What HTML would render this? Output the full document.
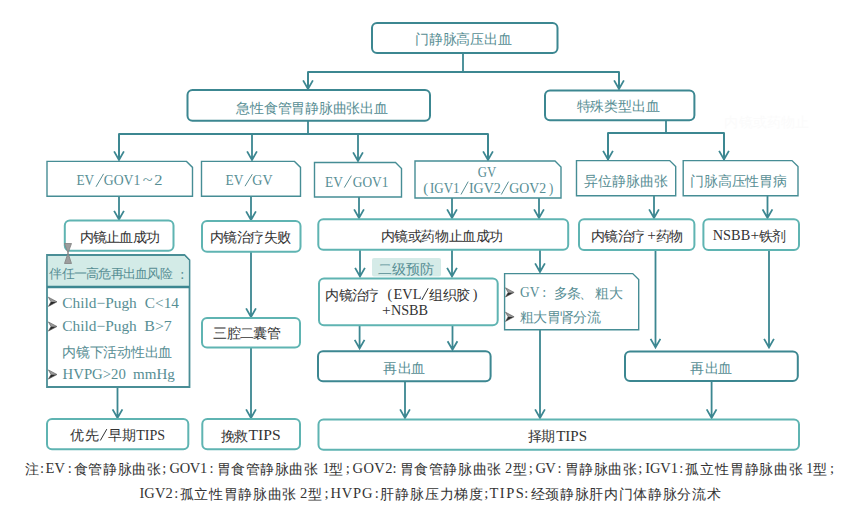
<!DOCTYPE html>
<html><head><meta charset="utf-8"><style>
html,body{margin:0;padding:0;background:#fff;width:865px;height:507px;overflow:hidden}
svg{display:block}
text{font-family:"Liberation Serif", serif}
</style></head><body>
<svg width="865" height="507" viewBox="0 0 865 507">
<path d="M463,53 L463,72" fill="none" stroke="#3c8791" stroke-width="1.8" stroke-linejoin="round"/>
<path d="M308,89 L308,72 L619,72 L619,89" fill="none" stroke="#3c8791" stroke-width="1.8" stroke-linejoin="round"/>
<path d="M308,72 L308,88.5 M303.1,80.4 L308,89.0 L312.9,80.4" fill="none" stroke="#3c8791" stroke-width="1.8" stroke-linejoin="miter" stroke-linecap="butt"/>
<path d="M619,72 L619,88.5 M614.1,80.4 L619,89.0 L623.9,80.4" fill="none" stroke="#3c8791" stroke-width="1.8" stroke-linejoin="miter" stroke-linecap="butt"/>
<path d="M308,121 L308,134" fill="none" stroke="#3c8791" stroke-width="1.8" stroke-linejoin="round"/>
<path d="M119,160 L119,134 L488,134 L488,160" fill="none" stroke="#3c8791" stroke-width="1.8" stroke-linejoin="round"/>
<path d="M119,134 L119,159.5 M114.1,151.4 L119,160.0 L123.9,151.4" fill="none" stroke="#3c8791" stroke-width="1.8" stroke-linejoin="miter" stroke-linecap="butt"/>
<path d="M252,134 L252,159.5 M247.1,151.4 L252,160.0 L256.9,151.4" fill="none" stroke="#3c8791" stroke-width="1.8" stroke-linejoin="miter" stroke-linecap="butt"/>
<path d="M358,134 L358,160.5 M353.1,152.4 L358,161.0 L362.9,152.4" fill="none" stroke="#3c8791" stroke-width="1.8" stroke-linejoin="miter" stroke-linecap="butt"/>
<path d="M488,134 L488,159.5 M483.1,151.4 L488,160.0 L492.9,151.4" fill="none" stroke="#3c8791" stroke-width="1.8" stroke-linejoin="miter" stroke-linecap="butt"/>
<path d="M666,120 L666,133" fill="none" stroke="#3c8791" stroke-width="1.8" stroke-linejoin="round"/>
<path d="M608,160 L608,133 L724,133 L724,160" fill="none" stroke="#3c8791" stroke-width="1.8" stroke-linejoin="round"/>
<path d="M608,133 L608,159.0 M603.1,150.9 L608,159.5 L612.9,150.9" fill="none" stroke="#3c8791" stroke-width="1.8" stroke-linejoin="miter" stroke-linecap="butt"/>
<path d="M724,133 L724,159.0 M719.1,150.9 L724,159.5 L728.9,150.9" fill="none" stroke="#3c8791" stroke-width="1.8" stroke-linejoin="miter" stroke-linecap="butt"/>
<path d="M119,196 L119,219.0 M114.1,210.9 L119,219.5 L123.9,210.9" fill="none" stroke="#3c8791" stroke-width="1.8" stroke-linejoin="miter" stroke-linecap="butt"/>
<path d="M251,196 L251,219.5 M246.1,211.4 L251,220.0 L255.9,211.4" fill="none" stroke="#3c8791" stroke-width="1.8" stroke-linejoin="miter" stroke-linecap="butt"/>
<path d="M359,197 L359,217.5 M354.1,209.4 L359,218.0 L363.9,209.4" fill="none" stroke="#3c8791" stroke-width="1.8" stroke-linejoin="miter" stroke-linecap="butt"/>
<path d="M452,198 L452,217.5 M447.1,209.4 L452,218.0 L456.9,209.4" fill="none" stroke="#3c8791" stroke-width="1.8" stroke-linejoin="miter" stroke-linecap="butt"/>
<path d="M539,198 L539,217.5 M534.1,209.4 L539,218.0 L543.9,209.4" fill="none" stroke="#3c8791" stroke-width="1.8" stroke-linejoin="miter" stroke-linecap="butt"/>
<path d="M654,196 L654,217.5 M649.1,209.4 L654,218.0 L658.9,209.4" fill="none" stroke="#3c8791" stroke-width="1.8" stroke-linejoin="miter" stroke-linecap="butt"/>
<path d="M767.5,196 L767.5,217.5 M762.6,209.4 L767.5,218.0 L772.4,209.4" fill="none" stroke="#3c8791" stroke-width="1.8" stroke-linejoin="miter" stroke-linecap="butt"/>
<path d="M360,250 L360,276.0 M355.1,267.9 L360,276.5 L364.9,267.9" fill="none" stroke="#3c8791" stroke-width="1.8" stroke-linejoin="miter" stroke-linecap="butt"/>
<path d="M452,250 L452,276.0 M447.1,267.9 L452,276.5 L456.9,267.9" fill="none" stroke="#3c8791" stroke-width="1.8" stroke-linejoin="miter" stroke-linecap="butt"/>
<path d="M540,250 L540,271.5 M535.1,263.4 L540,272.0 L544.9,263.4" fill="none" stroke="#3c8791" stroke-width="1.8" stroke-linejoin="miter" stroke-linecap="butt"/>
<path d="M251,252 L251,316.5 M246.1,308.4 L251,317.0 L255.9,308.4" fill="none" stroke="#3c8791" stroke-width="1.8" stroke-linejoin="miter" stroke-linecap="butt"/>
<path d="M251,347.5 L251,417.5 M246.1,409.4 L251,418.0 L255.9,409.4" fill="none" stroke="#3c8791" stroke-width="1.8" stroke-linejoin="miter" stroke-linecap="butt"/>
<path d="M359.6,325 L359.6,348.0 M354.70000000000005,339.9 L359.6,348.5 L364.5,339.9" fill="none" stroke="#3c8791" stroke-width="1.8" stroke-linejoin="miter" stroke-linecap="butt"/>
<path d="M452.5,325 L452.5,349.3 M447.6,341.2 L452.5,349.8 L457.4,341.2" fill="none" stroke="#3c8791" stroke-width="1.8" stroke-linejoin="miter" stroke-linecap="butt"/>
<path d="M405,381 L405,417.5 M400.1,409.4 L405,418.0 L409.9,409.4" fill="none" stroke="#3c8791" stroke-width="1.8" stroke-linejoin="miter" stroke-linecap="butt"/>
<path d="M540,329.5 L540,417.5 M535.1,409.4 L540,418.0 L544.9,409.4" fill="none" stroke="#3c8791" stroke-width="1.8" stroke-linejoin="miter" stroke-linecap="butt"/>
<path d="M655.5,250 L655.5,347.0 M650.6,338.9 L655.5,347.5 L660.4,338.9" fill="none" stroke="#3c8791" stroke-width="1.8" stroke-linejoin="miter" stroke-linecap="butt"/>
<path d="M769,250 L769,347.0 M764.1,338.9 L769,347.5 L773.9,338.9" fill="none" stroke="#3c8791" stroke-width="1.8" stroke-linejoin="miter" stroke-linecap="butt"/>
<path d="M711.6,381 L711.6,417.5 M706.7,409.4 L711.6,418.0 L716.5,409.4" fill="none" stroke="#3c8791" stroke-width="1.8" stroke-linejoin="miter" stroke-linecap="butt"/>
<path d="M117.5,387 L117.5,417.5 M112.6,409.4 L117.5,418.0 L122.4,409.4" fill="none" stroke="#3c8791" stroke-width="1.8" stroke-linejoin="miter" stroke-linecap="butt"/>
<rect x="372" y="23" width="185.50" height="30.00" rx="5" ry="5" fill="#fff" stroke="#3c8791" stroke-width="2"/>
<rect x="187.5" y="90" width="242.50" height="30.80" rx="5" ry="5" fill="#fff" stroke="#3c8791" stroke-width="2"/>
<rect x="545" y="90.4" width="149.40" height="29.80" rx="5" ry="5" fill="#fff" stroke="#3c8791" stroke-width="2"/>
<path d="M47,161.4 L186.5,161.4 L192.5,167.4 L192.5,196.3 L47,196.3 Z" fill="#fff" stroke="#468d95" stroke-width="1.4" stroke-linejoin="miter"/>
<path d="M201.5,161.4 L294.5,161.4 L300.5,167.4 L300.5,196.3 L201.5,196.3 Z" fill="#fff" stroke="#468d95" stroke-width="1.4" stroke-linejoin="miter"/>
<path d="M314.5,162.5 L395.5,162.5 L401.5,168.5 L401.5,197 L314.5,197 Z" fill="#fff" stroke="#468d95" stroke-width="1.4" stroke-linejoin="miter"/>
<path d="M415,161 L555,161 L561,167 L561,198 L415,198 Z" fill="#fff" stroke="#468d95" stroke-width="1.4" stroke-linejoin="miter"/>
<path d="M576.5,160.6 L669.7,160.6 L675.7,166.6 L675.7,195.7 L576.5,195.7 Z" fill="#fff" stroke="#468d95" stroke-width="1.4" stroke-linejoin="miter"/>
<path d="M683.2,160.6 L792,160.6 L798,166.6 L798,195.7 L683.2,195.7 Z" fill="#fff" stroke="#468d95" stroke-width="1.4" stroke-linejoin="miter"/>
<rect x="64.8" y="220.6" width="108.70" height="30.20" rx="5" ry="5" fill="#fff" stroke="#5fb4b2" stroke-width="2"/>
<rect x="202" y="221" width="98.50" height="30.70" rx="5" ry="5" fill="#fff" stroke="#5fb4b2" stroke-width="2"/>
<rect x="318.3" y="219.3" width="249.90" height="30.40" rx="5" ry="5" fill="#fff" stroke="#5fb4b2" stroke-width="2"/>
<rect x="579" y="219.2" width="115.40" height="30.90" rx="5" ry="5" fill="#fff" stroke="#5fb4b2" stroke-width="2"/>
<rect x="703.4" y="219.2" width="95.60" height="30.90" rx="5" ry="5" fill="#fff" stroke="#5fb4b2" stroke-width="2"/>
<path d="M47,255 L184.5,255 L189.5,260 L189.5,387 L47,387 Z" fill="#fff" stroke="#4a8e96" stroke-width="1.8" stroke-linejoin="miter"/>
<path d="M47.9,255.9 L184.1,255.9 L188.6,260.4 L188.6,287 L47.9,287 Z" fill="#d3ebe7"/>
<path d="M47,287 L189.5,287" fill="none" stroke="#3c8791" stroke-width="2.5" stroke-linejoin="round"/>
<path d="M64.5,243.5 L71.5,243.5 L68,253 Z M64.5,263.5 L71.5,263.5 L68,253 Z" fill="#9d9d9d" stroke="#808080" stroke-width="0.8"/>
<rect x="372" y="258" width="69" height="18.5" rx="2" fill="#d5ebe8"/>
<rect x="319" y="278.5" width="178.70" height="46.80" rx="5" ry="5" fill="#fff" stroke="#5fb4b2" stroke-width="2"/>
<path d="M504.6,273.6 L632.7,273.6 L638.7,279.6 L638.7,329.7 L504.6,329.7 Z" fill="#fff" stroke="#468d95" stroke-width="1.4" stroke-linejoin="miter"/>
<rect x="202" y="318" width="98.00" height="29.50" rx="5" ry="5" fill="#fff" stroke="#5fb4b2" stroke-width="2"/>
<rect x="318" y="351.2" width="172.60" height="30.10" rx="5" ry="5" fill="#fff" stroke="#3c8791" stroke-width="2"/>
<rect x="625" y="351.4" width="172.80" height="29.60" rx="5" ry="5" fill="#fff" stroke="#3c8791" stroke-width="2"/>
<rect x="47" y="419" width="141.30" height="30.20" rx="5" ry="5" fill="#fff" stroke="#5fb4b2" stroke-width="2"/>
<rect x="202.3" y="419" width="97.70" height="30.20" rx="5" ry="5" fill="#fff" stroke="#5fb4b2" stroke-width="2"/>
<rect x="318.5" y="419.5" width="480.50" height="30.20" rx="5" ry="5" fill="#fff" stroke="#5fb4b2" stroke-width="2"/>
<text x="415.11 428.88 442.65 456.42 470.19 483.96 497.73" y="43.65" fill="#578e94" font-size="13.8">门静脉高压出血</text>
<text x="236.41 250.16 263.91 277.66 291.41 305.16 318.91 332.66 346.41 360.16 373.91" y="112.95" fill="#578e94" font-size="13.8">急性食管胃静脉曲张出血</text>
<text x="576.71 590.47 604.23 617.99 631.75 645.51" y="111.25" fill="#578e94" font-size="13.8">特殊类型出血</text>
<text x="76.52" y="185" fill="#578e94" font-size="15" textLength="17.63" lengthAdjust="spacingAndGlyphs">EV</text>
<path d="M96,186.8 L103.6,173.8" stroke="#578e94" stroke-width="1.0" fill="none"/>
<text x="103.84" y="185" fill="#578e94" font-size="15" textLength="36.48" lengthAdjust="spacingAndGlyphs">GOV1</text>
<text x="142.89" y="185" fill="#578e94" font-size="15" textLength="9.83" lengthAdjust="spacingAndGlyphs">~</text>
<text x="154.18" y="185" fill="#578e94" font-size="15" textLength="8.23" lengthAdjust="spacingAndGlyphs">2</text>
<text x="225.51" y="185" fill="#578e94" font-size="15" textLength="17.84" lengthAdjust="spacingAndGlyphs">EV</text>
<path d="M245,186.2 L252.3,174.2" stroke="#578e94" stroke-width="1.0" fill="none"/>
<text x="252.33" y="185" fill="#578e94" font-size="15" textLength="20.23" lengthAdjust="spacingAndGlyphs">GV</text>
<text x="325.01" y="186.6" fill="#578e94" font-size="15" textLength="17.84" lengthAdjust="spacingAndGlyphs">EV</text>
<path d="M344.3,187.6 L351.4,175.6" stroke="#578e94" stroke-width="1.0" fill="none"/>
<text x="352.85" y="186.6" fill="#578e94" font-size="15" textLength="35.55" lengthAdjust="spacingAndGlyphs">GOV1</text>
<text x="477.78" y="176.6" fill="#578e94" font-size="15" textLength="18.47" lengthAdjust="spacingAndGlyphs">GV</text>
<text x="423.35" y="192.7" fill="#578e94" font-size="15" textLength="4.93" lengthAdjust="spacingAndGlyphs">(</text>
<text x="430.03" y="192.7" fill="#578e94" font-size="15" textLength="29.55" lengthAdjust="spacingAndGlyphs">IGV1</text>
<path d="M461,194.5 L468.2,181.6" stroke="#578e94" stroke-width="1.0" fill="none"/>
<text x="468.89" y="192.7" fill="#578e94" font-size="15" textLength="31.98" lengthAdjust="spacingAndGlyphs">IGV2</text>
<path d="M501.3,194.5 L508.6,181.6" stroke="#578e94" stroke-width="1.0" fill="none"/>
<text x="509.23" y="192.7" fill="#578e94" font-size="15" textLength="36.93" lengthAdjust="spacingAndGlyphs">GOV2</text>
<text x="548.99" y="192.7" fill="#578e94" font-size="15" textLength="4.28" lengthAdjust="spacingAndGlyphs">)</text>
<text x="584.31 598.15 611.99 625.83 639.67 653.51" y="185.85" fill="#578e94" font-size="13.8">异位静脉曲张</text>
<text x="690.01 703.84 717.67 731.50 745.33 759.16 772.99" y="185.85" fill="#578e94" font-size="13.8">门脉高压性胃病</text>
<text x="79.51 92.81 106.11 119.41 132.71 146.01" y="242.15" fill="#333333" font-size="13.8">内镜止血成功</text>
<text x="210.01 223.41 236.81 250.21 263.61 277.01" y="242.35" fill="#333333" font-size="13.8">内镜治疗失败</text>
<text x="380.81 394.37 407.93 421.49 435.05 448.61 462.17 475.73 489.29" y="240.85" fill="#333333" font-size="13.8">内镜或药物止血成功</text>
<text x="591.01 604.31 617.71 631.01" y="240.75" fill="#333333" font-size="13.8">内镜治疗</text>
<text x="647.3" y="240" fill="#333333" font-size="15.5">+</text>
<text x="655.91 669.31" y="240.75" fill="#333333" font-size="13.8">药物</text>
<text x="712.79" y="239.8" fill="#333333" font-size="15" textLength="37.41" lengthAdjust="spacingAndGlyphs">NSBB</text>
<text x="750.6" y="240" fill="#333333" font-size="15.5">+</text>
<text x="759.21 772.41" y="240.85" fill="#333333" font-size="13.8">铁剂</text>
<text x="49.24 61.52 73.78 86.06 98.32 110.59 122.87 135.13 147.41 159.67" y="278.17" fill="#578e94" font-size="13.1">伴任一高危再出血风险</text>
<text x="182.2" y="278.5" fill="#578e94" font-size="14.5" text-anchor="middle">:</text>
<text x="378.41 392.41 406.41 420.41" y="273.75" fill="#578e94" font-size="13.8">二级预防</text>
<text x="325.01 338.61 352.11 365.11" y="299.85" fill="#333333" font-size="13.8">内镜治疗</text>
<text x="387.58" y="298.5" fill="#333333" font-size="15" textLength="4.67" lengthAdjust="spacingAndGlyphs">(</text>
<text x="393.49" y="299" fill="#333333" font-size="15" textLength="27.98" lengthAdjust="spacingAndGlyphs">EVL</text>
<path d="M421.8,300 L428.2,288.2" stroke="#333333" stroke-width="1.0" fill="none"/>
<text x="429.31 442.81 456.31" y="299.85" fill="#333333" font-size="13.8">组织胶</text>
<text x="472.75" y="298.5" fill="#333333" font-size="15" textLength="4.67" lengthAdjust="spacingAndGlyphs">)</text>
<text x="381.9" y="315" fill="#333333" font-size="15.5">+</text>
<text x="390.89" y="314.7" fill="#333333" font-size="15" textLength="37.21" lengthAdjust="spacingAndGlyphs">NSBB</text>
<text x="519.95" y="296.8" fill="#578e94" font-size="15" textLength="19.51" lengthAdjust="spacingAndGlyphs">GV</text>
<text x="544.2" y="296.8" fill="#578e94" font-size="14.5" text-anchor="middle">:</text>
<text x="554.41 567.21" y="297.65" fill="#578e94" font-size="13.8">多条</text>
<text x="579.31" y="297.65" fill="#578e94" font-size="13.8">、</text>
<text x="595.01 608.51" y="297.65" fill="#578e94" font-size="13.8">粗大</text>
<text x="519.81 533.21 546.61 560.01 573.41 586.81" y="321.65" fill="#578e94" font-size="13.8">粗大胃肾分流</text>
<text x="62.37" y="307.8" fill="#578e94" font-size="15" textLength="74.43" lengthAdjust="spacingAndGlyphs">Child−Pugh</text>
<text x="144.87" y="307.8" fill="#578e94" font-size="15" textLength="34.06" lengthAdjust="spacingAndGlyphs">C&lt;14</text>
<text x="62.37" y="331.3" fill="#578e94" font-size="15" textLength="74.43" lengthAdjust="spacingAndGlyphs">Child−Pugh</text>
<text x="144.24" y="331.3" fill="#578e94" font-size="15" textLength="27.62" lengthAdjust="spacingAndGlyphs">B&gt;7</text>
<text x="62.31 76.01 89.71 103.41 117.11 130.81 144.51 158.21" y="356.95" fill="#578e94" font-size="13.8">内镜下活动性出血</text>
<text x="62.57" y="378.5" fill="#578e94" font-size="15" textLength="63.29" lengthAdjust="spacingAndGlyphs">HVPG&gt;20</text>
<text x="133.08" y="378.5" fill="#578e94" font-size="15" textLength="41.80" lengthAdjust="spacingAndGlyphs">mmHg</text>
<text x="213.11 226.56 240.01 253.46 266.91" y="338.45" fill="#333333" font-size="13.8">三腔二囊管</text>
<text x="383.31 398.21 411.11" y="372.75" fill="#578e94" font-size="13.8">再出血</text>
<text x="690.41 705.31 718.11" y="372.75" fill="#578e94" font-size="13.8">再出血</text>
<text x="70.01 85.31" y="440.05" fill="#333333" font-size="13.8">优先</text>
<path d="M100.3,440.5 L106.8,429.1" stroke="#333333" stroke-width="1.0" fill="none"/>
<text x="107.51 121.51" y="440.05" fill="#333333" font-size="13.8">早期</text>
<text x="136.15" y="439.5" fill="#333333" font-size="15" textLength="28.93" lengthAdjust="spacingAndGlyphs">TIPS</text>
<text x="221.21 233.81" y="440.65" fill="#333333" font-size="13.8">挽救</text>
<text x="248.52" y="440.2" fill="#333333" font-size="15" textLength="32.05" lengthAdjust="spacingAndGlyphs">TIPS</text>
<text x="528.11 540.51" y="440.65" fill="#333333" font-size="13.8">择期</text>
<text x="556.23" y="440.8" fill="#333333" font-size="15" textLength="30.80" lengthAdjust="spacingAndGlyphs">TIPS</text>
<text x="724.33 738.53 752.73 766.93 781.12 795.33" y="127.20" fill="#fbfbfb" font-size="13.5">内镜或药物止</text>
<path d="M48.4,297.2 L57.0,301.8 L51.0,301.8 Z" fill="#9a9a9a"/>
<path d="M51.0,301.8 L57.0,301.8 L48.4,306.40000000000003 Z" fill="#2a2a2a"/>
<path d="M48.4,297.2 L57.0,301.8 L48.4,306.40000000000003 L51.0,301.8 Z" fill="none" stroke="#555" stroke-width="0.6"/>
<path d="M48.4,321.9 L57.0,326.5 L51.0,326.5 Z" fill="#9a9a9a"/>
<path d="M51.0,326.5 L57.0,326.5 L48.4,331.1 Z" fill="#2a2a2a"/>
<path d="M48.4,321.9 L57.0,326.5 L48.4,331.1 L51.0,326.5 Z" fill="none" stroke="#555" stroke-width="0.6"/>
<path d="M48.4,369.9 L57.0,374.5 L51.0,374.5 Z" fill="#9a9a9a"/>
<path d="M51.0,374.5 L57.0,374.5 L48.4,379.1 Z" fill="#2a2a2a"/>
<path d="M48.4,369.9 L57.0,374.5 L48.4,379.1 L51.0,374.5 Z" fill="none" stroke="#555" stroke-width="0.6"/>
<path d="M505.5,287.79999999999995 L514.1,292.4 L508.1,292.4 Z" fill="#9a9a9a"/>
<path d="M508.1,292.4 L514.1,292.4 L505.5,297.0 Z" fill="#2a2a2a"/>
<path d="M505.5,287.79999999999995 L514.1,292.4 L505.5,297.0 L508.1,292.4 Z" fill="none" stroke="#555" stroke-width="0.6"/>
<path d="M505.5,312.2 L514.1,316.8 L508.1,316.8 Z" fill="#9a9a9a"/>
<path d="M508.1,316.8 L514.1,316.8 L505.5,321.40000000000003 Z" fill="#2a2a2a"/>
<path d="M505.5,312.2 L514.1,316.8 L505.5,321.40000000000003 L508.1,316.8 Z" fill="none" stroke="#555" stroke-width="0.6"/>
<text x="24.60" y="473.9" fill="#333333" font-size="14.3">注</text>
<text x="42" y="473.3" fill="#333333" font-size="14.5" text-anchor="middle">:</text>
<text x="45.6" y="473.3" fill="#333333" font-size="14.5" textLength="19.3" lengthAdjust="spacing">EV</text>
<text x="69.7" y="473.3" fill="#333333" font-size="14.5" text-anchor="middle">:</text>
<text x="73.70 88.36 103.02 117.68 132.34 147.00" y="473.9" fill="#333333" font-size="14.3">食管静脉曲张</text>
<text x="164.3" y="473.3" fill="#333333" font-size="14.5" text-anchor="middle">;</text>
<text x="169.6" y="473.3" fill="#333333" font-size="14.5" textLength="37.6" lengthAdjust="spacing">GOV1</text>
<text x="211.6" y="473.3" fill="#333333" font-size="14.5" text-anchor="middle">:</text>
<text x="216.70 231.25 245.80 260.35 274.90 289.45 304.00" y="473.9" fill="#333333" font-size="14.3">胃食管静脉曲张</text>
<text x="322.5" y="473.3" fill="#333333" font-size="14.5">1</text>
<text x="329.30" y="473.9" fill="#333333" font-size="14.3">型</text>
<text x="347.8" y="473.3" fill="#333333" font-size="14.5" text-anchor="middle">;</text>
<text x="352.6" y="473.3" fill="#333333" font-size="14.5" textLength="39.8" lengthAdjust="spacing">GOV2</text>
<text x="394.5" y="473.3" fill="#333333" font-size="14.5" text-anchor="middle">:</text>
<text x="399.60 414.22 428.84 443.46 458.08 472.70 487.32" y="473.9" fill="#333333" font-size="14.3">胃食管静脉曲张</text>
<text x="504.9" y="473.3" fill="#333333" font-size="14.5">2</text>
<text x="512.80" y="473.9" fill="#333333" font-size="14.3">型</text>
<text x="530.7" y="473.3" fill="#333333" font-size="14.5" text-anchor="middle">;</text>
<text x="535.5" y="473.3" fill="#333333" font-size="14.5" textLength="20.2" lengthAdjust="spacing">GV</text>
<text x="559.6" y="473.3" fill="#333333" font-size="14.5" text-anchor="middle">:</text>
<text x="564.60 579.20 593.80 608.40 623.00" y="473.9" fill="#333333" font-size="14.3">胃静脉曲张</text>
<text x="640.3" y="473.3" fill="#333333" font-size="14.5" text-anchor="middle">;</text>
<text x="645.2" y="473.3" fill="#333333" font-size="14.5" textLength="32.8" lengthAdjust="spacing">IGV1</text>
<text x="681.2" y="473.3" fill="#333333" font-size="14.5" text-anchor="middle">:</text>
<text x="685.20 700.04 714.88 729.72 744.56 759.40 774.24 789.08" y="473.9" fill="#333333" font-size="14.3">孤立性胃静脉曲张</text>
<text x="806.1" y="473.3" fill="#333333" font-size="14.5">1</text>
<text x="813.40" y="473.9" fill="#333333" font-size="14.3">型</text>
<text x="831.9" y="473.3" fill="#333333" font-size="14.5" text-anchor="middle">;</text>
<text x="139.4" y="498.0" fill="#333333" font-size="14.5" textLength="33.3" lengthAdjust="spacing">IGV2</text>
<text x="176.2" y="498.0" fill="#333333" font-size="14.5" text-anchor="middle">:</text>
<text x="179.70 194.37 209.04 223.71 238.38 253.05 267.72 282.39" y="498.7" fill="#333333" font-size="14.3">孤立性胃静脉曲张</text>
<text x="300.0" y="498.0" fill="#333333" font-size="14.5">2</text>
<text x="308.40" y="498.7" fill="#333333" font-size="14.3">型</text>
<text x="326.4" y="498.0" fill="#333333" font-size="14.5" text-anchor="middle">;</text>
<text x="330.6" y="498.0" fill="#333333" font-size="14.5" textLength="41.8" lengthAdjust="spacing">HVPG</text>
<text x="376.7" y="498.0" fill="#333333" font-size="14.5" text-anchor="middle">:</text>
<text x="380.10 394.95 409.80 424.65 439.50 454.35 469.20" y="498.7" fill="#333333" font-size="14.3">肝静脉压力梯度</text>
<text x="486.2" y="498.0" fill="#333333" font-size="14.5" text-anchor="middle">;</text>
<text x="489.5" y="498.0" fill="#333333" font-size="14.5" textLength="34.3" lengthAdjust="spacing">TIPS</text>
<text x="526.2" y="498.0" fill="#333333" font-size="14.5" text-anchor="middle">:</text>
<text x="530.50 545.19 559.88 574.57 589.26 603.95 618.64 633.33 648.02 662.71 677.40 692.09 706.78" y="498.7" fill="#333333" font-size="14.3">经颈静脉肝内门体静脉分流术</text>
</svg>
</body></html>
